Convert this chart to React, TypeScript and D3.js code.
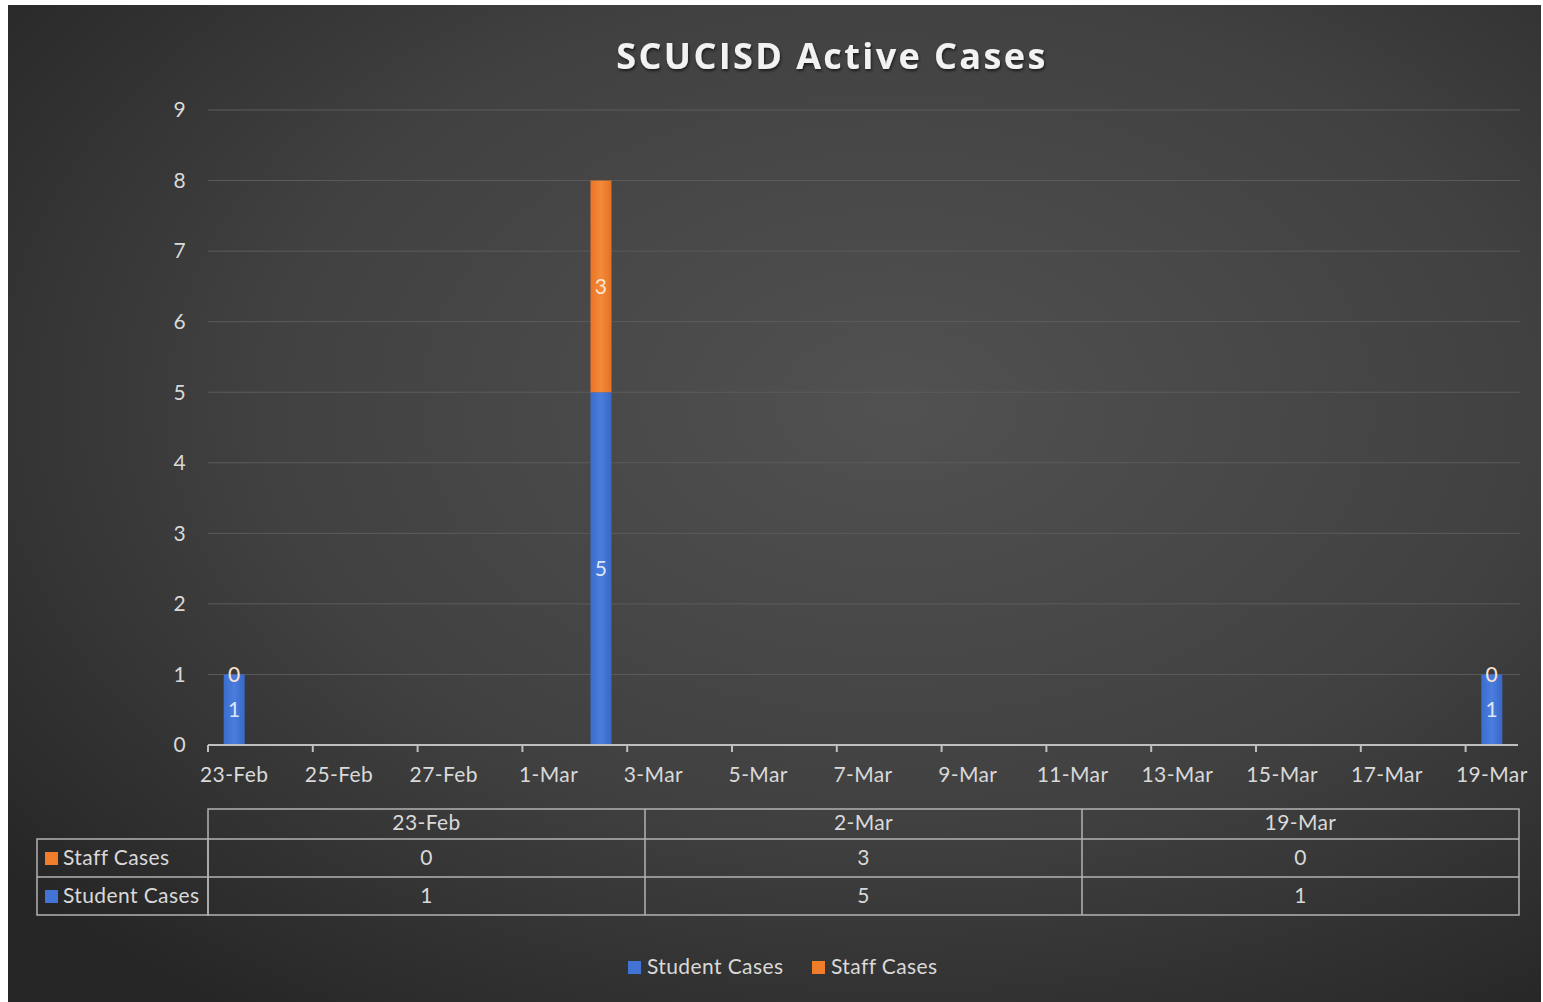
import * as d3 from 'd3';

const dates = ['2021-02-23', '2021-03-02', '2021-03-19'];
const tableLabels = ['23-Feb', '2-Mar', '19-Mar'];
const studentCases = [1, 5, 1];
const staffCases = [0, 3, 0];
const seriesNames = ['Student Cases', 'Staff Cases'];
const seriesColors = ['#4274d6', '#f07d2a'];
const yTicks = [0, 1, 2, 3, 4, 5, 6, 7, 8, 9];

const W = 1543;
const H = 1002;
const FONT = 'Lato, "Open Sans", sans-serif';
const TEXT = '#d9d9d9';
const FS = 21;
const DY = 2; // small nudge so text centres sit like excel's

const parse = d3.utcParse('%Y-%m-%d');
const DAY = 24 * 3600 * 1000;

export default function App() {
  const start = parse('2021-02-23')!;
  const x = d3.scaleUtc()
    .domain([start, parse('2021-03-20')!])
    .range([208, 1518]);
  const y = d3.scaleLinear().domain([0, 9]).range([745, 110]);

  // excel-style date axis: a tick every 2 days from the first date
  const ticks = d3.range(0, 13).map(i => d3.utcDay.offset(start, i * 2));
  const fmt = d3.utcFormat('%-d-%b');

  const rows = dates.map((d, i) => ({ date: parse(d)!, student: studentCases[i], staff: staffCases[i] }));
  const stack = d3.stack<any>().keys(['student', 'staff'])(rows);
  const barW = 21;

  const col = d3.scaleBand<string>().domain(tableLabels).range([208, 1519]);
  const tableRows = [
    { name: seriesNames[1], color: seriesColors[1], values: staffCases },
    { name: seriesNames[0], color: seriesColors[0], values: studentCases },
  ];
  const rowY = [839, 877, 915];

  return (
    <svg width={W} height={H} style={{ position: 'absolute', left: 0, top: 0 }} fontFamily={FONT} letterSpacing={0.4}>
      <defs>
        <radialGradient id="bg" cx="0.58" cy="0.4" r="0.75">
          <stop offset="0%" stopColor="#515151" />
          <stop offset="55%" stopColor="#414141" />
          <stop offset="100%" stopColor="#262626" />
        </radialGradient>
        <linearGradient id="gBlue" x1="0" x2="1">
          <stop offset="0%" stopColor="#3b6dcf" />
          <stop offset="50%" stopColor="#4a7ddc" />
          <stop offset="100%" stopColor="#3868c8" />
        </linearGradient>
        <linearGradient id="gOrange" x1="0" x2="1">
          <stop offset="0%" stopColor="#ea7623" />
          <stop offset="50%" stopColor="#f38a3a" />
          <stop offset="100%" stopColor="#e47220" />
        </linearGradient>
        <filter id="shadow" x="-5%" y="-20%" width="110%" height="150%">
          <feDropShadow dx="1" dy="2" stdDeviation="1.5" floodColor="#000" floodOpacity="0.6" />
        </filter>
      </defs>
      <rect width={W} height={H} fill="#fff" />
      <rect x={8} y={5} width={1533} height={997} fill="url(#bg)" />

      <text x={832} y={59} textAnchor="middle" dominantBaseline="middle" fontFamily='"Open Sans", sans-serif'
        fontWeight="bold" fontSize={36} letterSpacing={2.4} fill="#f2f2f2" filter="url(#shadow)">
        SCUCISD Active Cases
      </text>

      {yTicks.map(t => (
        <g key={t}>
          {t > 0 && <line x1={208} x2={1520} y1={y(t)} y2={y(t)} stroke="#5c5c5c" strokeWidth={1} />}
          <text x={186} y={y(t) + DY} textAnchor="end" dominantBaseline="middle" fontSize={FS} fill={TEXT}>{t}</text>
        </g>
      ))}

      {stack.map((s, si) => s.map((d, i) => {
        const cx = x(new Date(rows[i].date.getTime() + DAY / 2));
        const y0 = y(d[0]);
        const y1 = y(d[1]);
        const v = d[1] - d[0];
        return (
          <g key={`${si}-${i}`}>
            {v > 0 && <rect x={cx - barW / 2} y={y1} width={barW} height={y0 - y1} fill={si === 0 ? 'url(#gBlue)' : 'url(#gOrange)'} />}
            <text x={cx} y={(y0 + y1) / 2 + DY} textAnchor="middle" dominantBaseline="middle" fontSize={FS}
              fill={si === 0 ? '#dce6fa' : '#fbe3d0'}>{v}</text>
          </g>
        );
      }))}

      <line x1={208} x2={1518} y1={745} y2={745} stroke="#bfbfbf" strokeWidth={2} />
      {ticks.map((t, i) => (
        <g key={i}>
          <line x1={x(t)} x2={x(t)} y1={745} y2={752} stroke="#bfbfbf" strokeWidth={2} />
          <text x={x(new Date(t.getTime() + DAY / 2))} y={775 + DY} textAnchor="middle" dominantBaseline="middle"
            fontSize={FS} fill={TEXT}>{fmt(t)}</text>
        </g>
      ))}

      {/* data table */}
      <g stroke="#b3b3b3" strokeWidth={1.5} fill="none">
        <rect x={208} y={809} width={1311} height={106} />
        <rect x={37} y={839} width={171} height={76} />
        <line x1={37} x2={1519} y1={877} y2={877} />
        <line x1={208} x2={1519} y1={839} y2={839} />
        {tableLabels.slice(1).map(l => (
          <line key={l} x1={col(l)!} x2={col(l)!} y1={809} y2={915} />
        ))}
      </g>
      {tableLabels.map(l => (
        <text key={l} x={col(l)! + col.bandwidth() / 2} y={823 + DY} textAnchor="middle" dominantBaseline="middle"
          fontSize={FS} fill={TEXT}>{l}</text>
      ))}
      {tableRows.map((r, ri) => {
        const cy = (rowY[ri] + rowY[ri + 1]) / 2;
        return (
          <g key={r.name}>
            <rect x={45} y={cy - 6} width={13} height={13} fill={r.color} />
            <text x={63} y={cy + DY} dominantBaseline="middle" fontSize={FS} fill={TEXT}>{r.name}</text>
            {r.values.map((v, i) => (
              <text key={i} x={col(tableLabels[i])! + col.bandwidth() / 2} y={cy + DY} textAnchor="middle"
                dominantBaseline="middle" fontSize={FS} fill={TEXT}>{v}</text>
            ))}
          </g>
        );
      })}

      {/* legend */}
      {seriesNames.map((n, i) => {
        const lx = [628, 812][i];
        return (
          <g key={n}>
            <rect x={lx} y={961} width={13} height={13} fill={seriesColors[i]} />
            <text x={lx + 19} y={967 + DY} dominantBaseline="middle" fontSize={FS} fill={TEXT}>{n}</text>
          </g>
        );
      })}
    </svg>
  );
}
